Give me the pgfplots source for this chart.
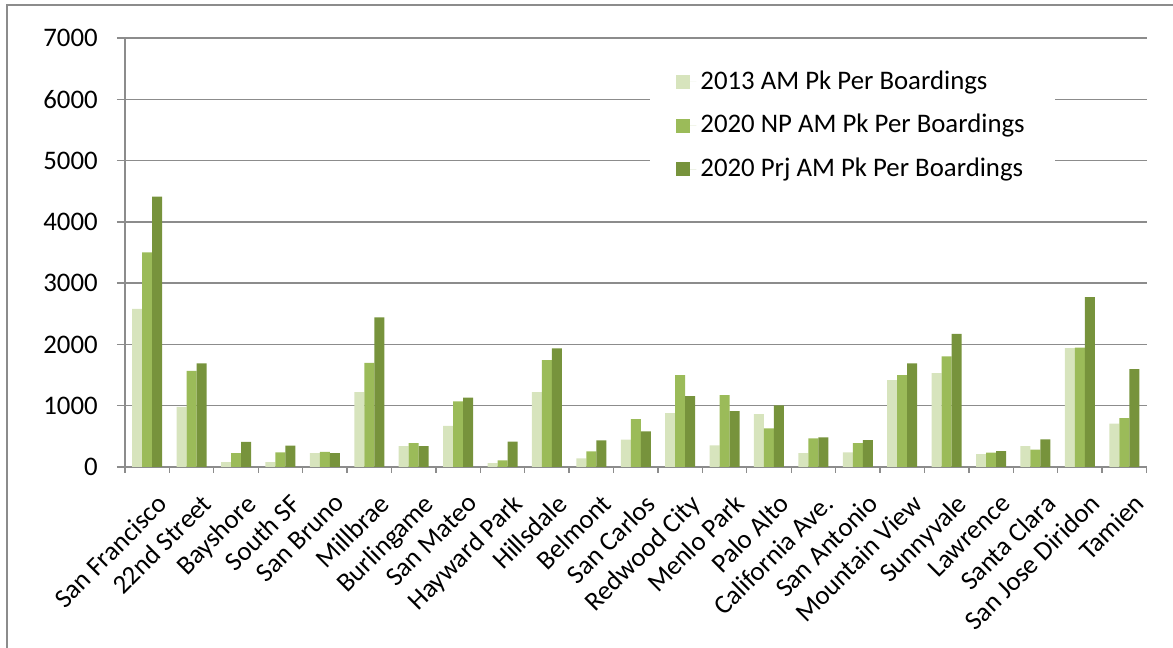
\documentclass[border=0pt]{standalone}
\usepackage{pgfplots}
\pgfplotsset{compat=1.18}
\usepackage{fontspec}
\setmainfont{Carlito}
\definecolor{c13}{HTML}{D7E4BD}
\definecolor{cnp}{HTML}{9BBB59}
\definecolor{cprj}{HTML}{77933C}
\definecolor{gridc}{HTML}{8C8C8C}

\pgfplotstableread{
x  a     b     c
0  2580  3500  4410
1  980   1570  1690
2  80    225   410
3  80    240   350
4  225   245   225
5  1220  1700  2440
6  340   390   340
7  670   1070  1130
8  65    110   413
9  1223  1745  1935
10 141   255   435
11 446   783   582
12 880   1500  1158
13 353   1174  913
14 864   630   1005
15 228   467   484
16 239   391   440
17 1418  1500  1690
18 1533  1804  2174
19 212   234   261
20 342   283   451
21 1940  1946  2772
22 707   799   1598
}\boardings

\begin{document}
\fontsize{13.4}{15.5}\selectfont
\begin{tikzpicture}
\useasboundingbox (0,0) rectangle (586.5pt,324pt);
% outer chart frame (top and left edges only are visible)
\draw[gridc, line width=0.65pt] (3.5pt,0) -- (3.5pt,321.5pt) -- (586.5pt,321.5pt);
\begin{axis}[
    at={(62.5pt,90.5pt)}, anchor=south west,
    scale only axis, width=510.75pt, height=214.5pt,
    ybar=0pt, bar width=5pt,
    xmin=-0.5, xmax=22.5,
    ymin=0, ymax=7000,
    ytick={0,1000,...,7000},
    xtick={0,...,22},
    xticklabels={San Francisco,22nd Street,Bayshore,South SF,San Bruno,Millbrae,Burlingame,San Mateo,Hayward Park,Hillsdale,Belmont,San Carlos,Redwood City,Menlo Park,Palo Alto,California Ave.,San Antonio,Mountain View,Sunnyvale,Lawrence,Santa Clara,San Jose Diridon,Tamien},
    minor xtick={-0.5,0.5,...,22.5},
    major x tick style={draw=none},
    minor tick length=3pt, major tick length=4pt,
    tick align=outside,
    tick style={gridc, line width=0.65pt},
    xticklabel style={rotate=45, anchor=north east, inner sep=1pt, yshift=-8pt, xshift=-2pt},
    yticklabel style={xshift=-5pt},
    axis x line*=bottom, axis y line*=left,
    axis line style={gridc, line width=0.65pt},
    ymajorgrids, grid style={gridc, line width=0.65pt},
    /pgf/number format/assume math mode=true,
    /pgf/number format/1000 sep={},
    legend cell align=left,
    legend style={at={(rel axis cs:0.514,0.953)}, anchor=north west,
        draw=none, fill=white, inner xsep=13pt, inner ysep=4pt,
        row sep=6.5pt, font=\fontsize{13.4}{15.5}\selectfont},
    legend image code/.code={\fill[#1] (0pt,-3.5pt) rectangle (7pt,3.5pt);
        \path (0pt,0pt) -- (10pt,0pt);},
]
\addplot[fill=c13, draw=none] table[x=x, y=a] {\boardings};
\addplot[fill=cnp, draw=none] table[x=x, y=b] {\boardings};
\addplot[fill=cprj, draw=none] table[x=x, y=c] {\boardings};
\legend{2013 AM Pk Per Boardings, 2020 NP AM Pk Per Boardings, 2020 Prj AM Pk Per Boardings}
\end{axis}
\end{tikzpicture}
\end{document}
